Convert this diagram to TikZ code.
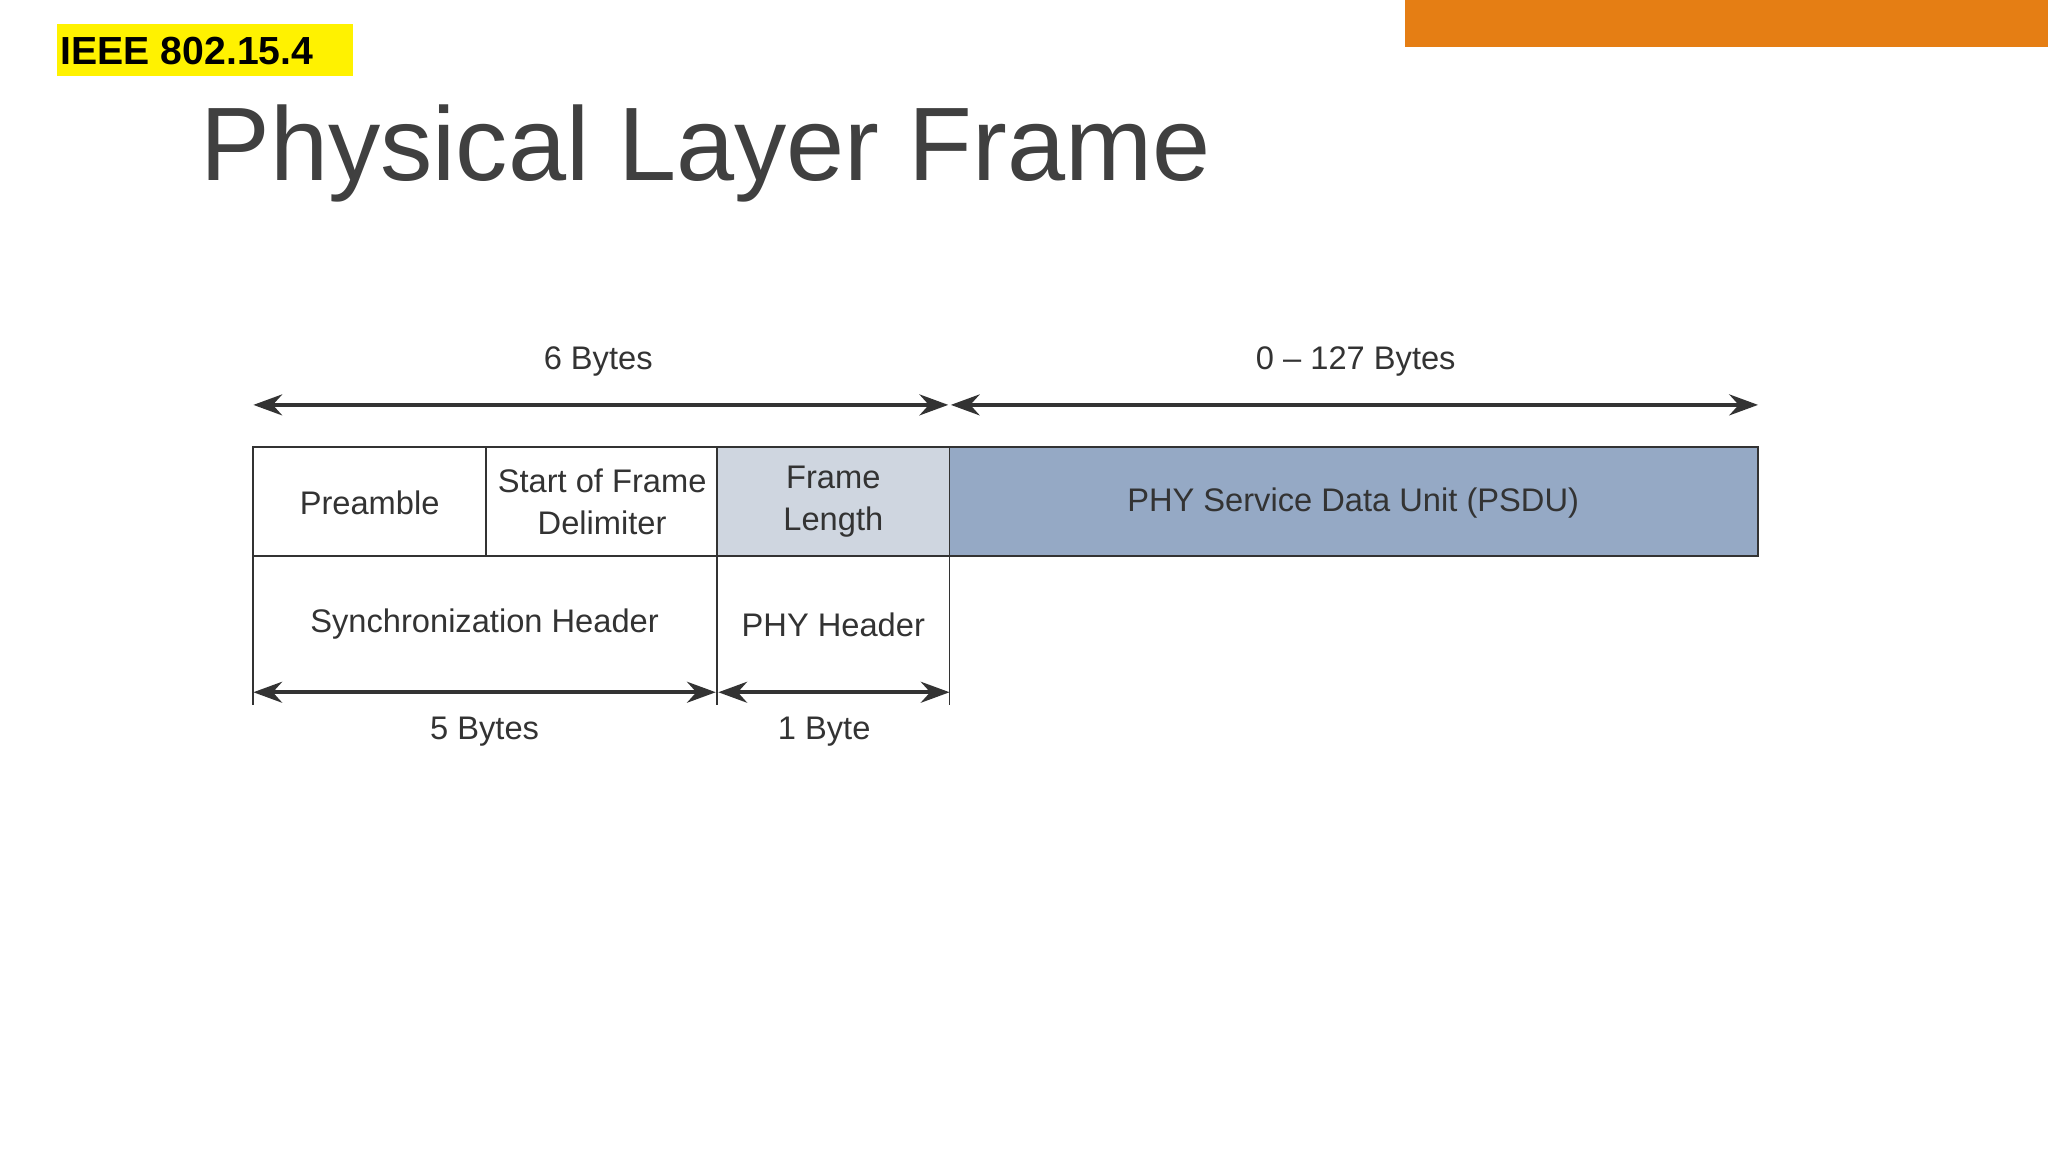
\documentclass[tikz,border=0pt]{standalone}
\usepackage{fontspec}
\setmainfont{Liberation Sans}
\usetikzlibrary{arrows.meta}
\definecolor{orng}{HTML}{E57E14}
\definecolor{lblue}{HTML}{CFD6E0}
\definecolor{dblue}{HTML}{95A9C5}
\definecolor{txt}{HTML}{333333}
\begin{document}
\begin{tikzpicture}[x=0.5pt,y=-0.5pt,
  lbl/.style={text=txt,font=\fontsize{12.5}{14}\selectfont,align=center,inner sep=0},
  dim/.style={draw=txt,line width=1.5pt,{Stealth[length=11pt,width=8pt]}-{Stealth[length=11pt,width=8pt]}},
  cell/.style={draw=txt,line width=0.7pt}]
\useasboundingbox (0,0) rectangle (1568,882);
\fill[white] (0,0) rectangle (1568,882);
\fill[orng] (1076,0) rectangle (1568,36);
\fill[yellow] (44,18) rectangle (270,58);
\node[anchor=west,inner sep=0,font=\bfseries\fontsize{15}{18}\selectfont] (ieee) at (46,39) {IEEE 802.15.4};
\node[anchor=base west,inner sep=0,text=black!75,font=\fontsize{40}{48}\selectfont] (title) at (153,138) {Physical Layer Frame};
% boxes
\draw[cell] (194,342) rectangle (372,426);
\draw[cell] (372,342) rectangle (549,426);
\draw[cell,fill=lblue] (549,342) rectangle (727,426);
\draw[cell,fill=dblue] (727,342) rectangle (1346,426);
\node[lbl] (pre) at (283,385) {Preamble};
\node[lbl] (sfd) at (461,384) {Start of Frame\\[2pt]Delimiter};
\node[lbl] (fl) at (638,384) {Frame\\[2pt]Length};
\node[lbl] (psdu) at (1036,385) {PHY Service Data Unit (PSDU)};
% lower verticals
\draw[cell] (194,426) -- (194,540);
\draw[cell] (549,426) -- (549,540);
\draw[cell] (727,426) -- (727,540);
\node[lbl] (sh) at (371,478) {Synchronization Header};
\node[lbl] (ph) at (638,478) {PHY Header};
% dimension arrows
\coordinate (a1) at (194,310); \coordinate (a2) at (726,310);
\coordinate (a3) at (728,310); \coordinate (a4) at (1346,310);
\draw[dim] (a1) -- (a2);
\draw[dim] (a3) -- (a4);
\node[lbl] (six) at (458,277) {6 Bytes};
\node[lbl] (oct) at (1038,277) {0 – 127 Bytes};
\coordinate (b1) at (194,530); \coordinate (b2) at (548,530);
\coordinate (b3) at (550,530); \coordinate (b4) at (727,530);
\draw[dim] (b1) -- (b2);
\draw[dim] (b3) -- (b4);
\node[lbl] (five) at (371,560) {5 Bytes};
\node[lbl] (one) at (631,560) {1 Byte};
\end{tikzpicture}
\end{document}
